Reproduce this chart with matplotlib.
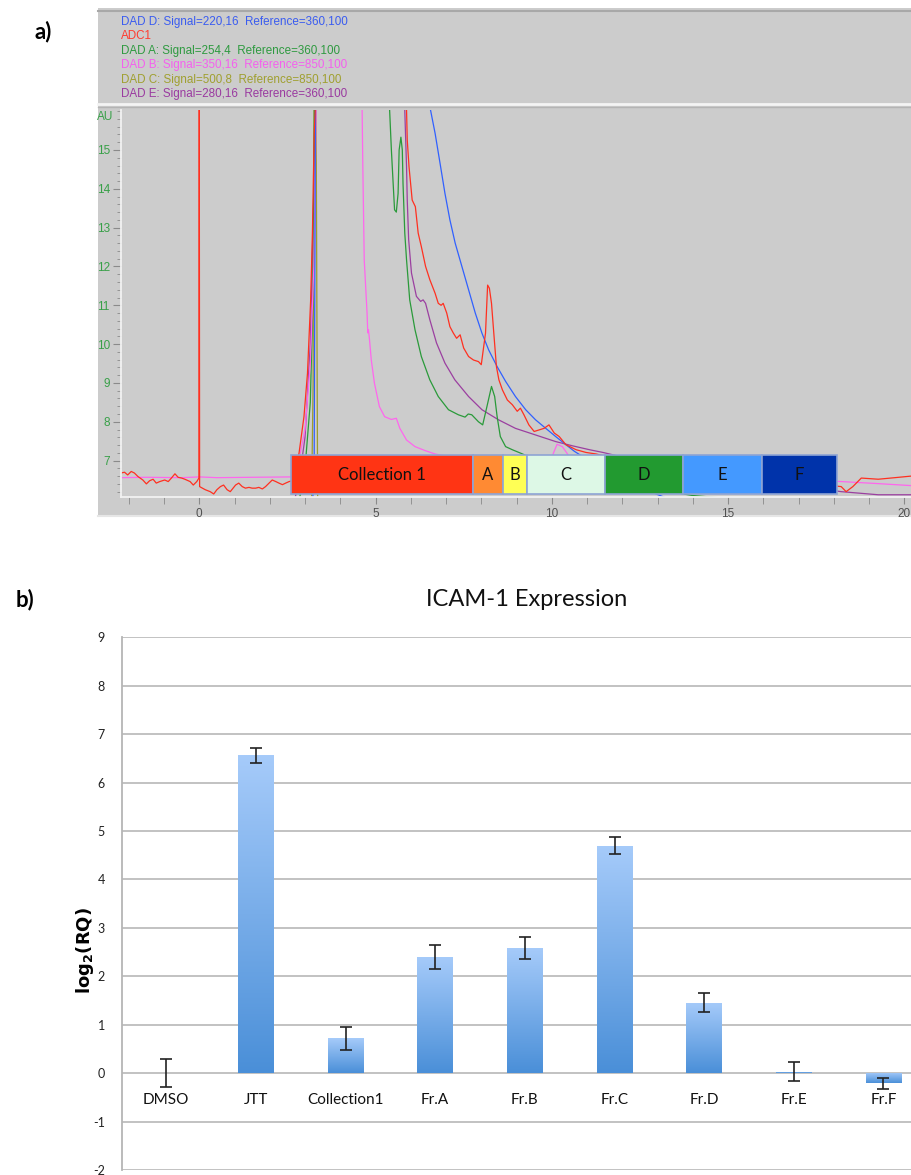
import matplotlib
matplotlib.use('Agg')
import matplotlib.pyplot as plt
import numpy as np
from matplotlib.patches import Rectangle
from matplotlib.lines import Line2D
from matplotlib.colors import LinearSegmentedColormap
from matplotlib.ticker import MultipleLocator

plt.rcParams['axes.unicode_minus'] = False

# ---------------- panel a: chromatogram (minutes, AU) ----------------
adc1 = [(-2.22, 6.68), (-2.12, 6.70), (-2.03, 6.63), (-1.93, 6.72), (-1.84, 6.68),
        (-1.74, 6.59), (-1.60, 6.50), (-1.50, 6.40), (-1.41, 6.48), (-1.31, 6.52),
        (-1.22, 6.42), (-1.12, 6.46), (-0.98, 6.50), (-0.88, 6.46), (-0.79, 6.55),
        (-0.69, 6.66), (-0.60, 6.57), (-0.50, 6.55), (-0.41, 6.52), (-0.26, 6.46),
        (-0.17, 6.37), (-0.07, 6.46), (-0.01, 6.55), (0.00, 16.5), (0.01, 6.33),
        (0.17, 6.25), (0.31, 6.20), (0.41, 6.14), (0.50, 6.25), (0.60, 6.33),
        (0.69, 6.37), (0.79, 6.25), (0.88, 6.20), (1.03, 6.37), (1.12, 6.42),
        (1.22, 6.33), (1.31, 6.29), (1.41, 6.31), (1.50, 6.29), (1.60, 6.29),
        (1.69, 6.31), (1.79, 6.27), (1.88, 6.33), (1.98, 6.42), (2.07, 6.50),
        (2.17, 6.46), (2.26, 6.42), (2.36, 6.38), (2.45, 6.42), (2.55, 6.46),
        (2.64, 6.48), (2.83, 7.19), (2.97, 8.13), (3.07, 9.25), (3.16, 11.14),
        (3.21, 12.86), (3.26, 15.43), (3.29, 16.03), (3.32, 17.0), (5.80, 17.0),
        (5.88, 16.03), (5.90, 15.26), (5.95, 14.57), (6.04, 13.71), (6.13, 13.54),
        (6.21, 12.86), (6.30, 12.51), (6.42, 12.00), (6.54, 11.66), (6.69, 11.31),
        (6.78, 11.05), (6.86, 11.00), (6.92, 11.05), (7.02, 10.80), (7.11, 10.45),
        (7.21, 10.28), (7.30, 10.15), (7.40, 10.24), (7.50, 9.90), (7.64, 9.68),
        (7.78, 9.59), (7.92, 9.55), (8.00, 9.47), (8.05, 9.81), (8.12, 10.28),
        (8.18, 11.52), (8.23, 11.44), (8.29, 11.05), (8.37, 10.11), (8.43, 9.42),
        (8.50, 9.08), (8.60, 8.82), (8.74, 8.56), (8.88, 8.44), (9.02, 8.27),
        (9.11, 8.35), (9.21, 8.18), (9.35, 7.92), (9.50, 7.75), (9.64, 7.79),
        (9.78, 7.83), (9.92, 7.92), (10.07, 7.71), (10.21, 7.62), (10.40, 7.41),
        (10.69, 7.28), (10.97, 7.21), (11.26, 7.17), (12.5, 6.90), (14.0, 6.70),
        (16.0, 6.50), (17.5, 6.40), (18.21, 6.33), (18.35, 6.20), (18.54, 6.33),
        (18.78, 6.55), (19.26, 6.52), (19.73, 6.56), (20.30, 6.61)]

dad_d = [(-2.22, 5.5), (3.20, 5.5), (3.26, 7.0), (3.28, 12.0), (3.30, 17.0), (6.45, 17.0),
         (6.56, 16.03), (6.69, 15.43), (6.83, 14.66), (6.97, 13.88), (7.11, 13.20),
         (7.26, 12.60), (7.45, 12.00), (7.64, 11.40), (7.83, 10.80), (8.02, 10.28),
         (8.21, 9.85), (8.45, 9.42), (8.69, 9.04), (8.97, 8.65), (9.26, 8.31),
         (9.54, 8.05), (9.83, 7.83), (10.11, 7.62), (10.40, 7.41), (10.64, 7.24),
         (10.83, 7.13), (11.5, 6.75), (12.5, 6.30), (13.5, 5.95), (15.0, 5.70), (20.3, 5.50)]

dad_a = [(-2.22, 5.8), (2.80, 5.8), (3.00, 6.8), (3.15, 8.5), (3.22, 11.0), (3.27, 16.5),
         (3.30, 17.0), (5.30, 17.0), (5.40, 16.03), (5.45, 15.0), (5.50, 14.14),
         (5.54, 13.46), (5.59, 13.40), (5.64, 13.88), (5.67, 15.0), (5.72, 15.33),
         (5.76, 15.0), (5.78, 14.14), (5.83, 12.86), (5.88, 12.17), (5.97, 11.14),
         (6.12, 10.37), (6.30, 9.68), (6.54, 9.08), (6.78, 8.65), (7.07, 8.31),
         (7.35, 8.18), (7.54, 8.12), (7.63, 8.20), (7.73, 8.18), (7.92, 8.00),
         (8.04, 7.92), (8.16, 8.39), (8.29, 8.91), (8.38, 8.65), (8.45, 8.13),
         (8.54, 7.62), (8.69, 7.36), (8.88, 7.28), (9.12, 7.19), (9.6, 7.00),
         (10.5, 6.80), (12.0, 6.40), (14.0, 6.10), (16.0, 5.95), (20.3, 5.85)]

dad_b = [(-2.22, 6.56), (-1.5, 6.57), (-0.5, 6.56), (0.0, 6.58), (0.5, 6.56), (1.5, 6.57),
         (2.64, 6.58), (2.80, 6.9), (3.00, 7.8), (3.15, 9.5), (3.25, 12.0), (3.30, 15.0),
         (3.33, 17.0), (4.50, 17.0), (4.62, 16.03), (4.64, 14.57), (4.68, 12.17),
         (4.76, 10.80), (4.78, 10.29), (4.80, 10.37), (4.83, 10.11), (4.88, 9.59),
         (4.97, 8.99), (5.11, 8.39), (5.26, 8.13), (5.45, 8.06), (5.59, 8.09),
         (5.69, 7.83), (5.88, 7.53), (6.12, 7.36), (6.40, 7.26), (6.69, 7.17),
         (7.3, 7.06), (8.2, 6.98), (9.2, 6.93), (9.95, 6.95), (10.05, 7.20),
         (10.15, 7.42), (10.3, 7.36), (10.5, 7.10), (11.2, 6.90), (13.0, 6.75),
         (15.0, 6.60), (18.21, 6.46), (19.2, 6.41), (20.3, 6.35)]

dad_c = [(-2.22, 5.6), (3.18, 5.6), (3.23, 9.0), (3.26, 17.0), (3.31, 17.0),
         (3.36, 5.6), (20.3, 5.6)]

dad_e = [(-2.22, 5.95), (2.70, 5.95), (2.85, 6.6), (3.00, 7.6), (3.15, 10.0), (3.25, 14.0),
         (3.30, 17.0), (5.70, 17.0), (5.83, 16.03), (5.85, 15.43), (5.88, 14.57),
         (5.90, 13.71), (5.94, 12.69), (6.02, 11.83), (6.16, 11.23), (6.28, 11.10),
         (6.35, 11.14), (6.42, 11.05), (6.54, 10.63), (6.73, 10.03), (6.97, 9.51),
         (7.25, 9.08), (7.64, 8.65), (8.02, 8.31), (8.49, 8.05), (8.97, 7.83),
         (9.54, 7.66), (10.11, 7.49), (10.59, 7.38), (11.07, 7.28), (11.45, 7.21),
         (11.73, 7.15), (13.0, 6.90), (15.0, 6.60), (17.0, 6.35), (18.21, 6.20),
         (19.26, 6.12), (20.3, 6.12)]

legend_lines = ['DAD D: Signal=220,16  Reference=360,100', 'ADC1',
                'DAD A: Signal=254,4  Reference=360,100', 'DAD B: Signal=350,16  Reference=850,100',
                'DAD C: Signal=500,8  Reference=850,100', 'DAD E: Signal=280,16  Reference=360,100']
legend_colors = ['#3a5cf0', '#ff3b2f', '#2e9a40', '#f460ee', '#a0a030', '#9a3aa0']

frac_labels = ['Collection 1', 'A', 'B', 'C', 'D', 'E', 'F']
frac_edges = [2.60, 7.77, 8.61, 9.29, 11.52, 13.71, 15.95, 18.08]
frac_colors = ['#ff3414', '#ff8a33', '#ffff55', '#ddf8e6', '#229a30', '#4499ff', '#0033aa']

# ---------------- panel b: ICAM-1 expression ----------------
categories = ['DMSO', 'JTT', 'Collection1', 'Fr.A', 'Fr.B', 'Fr.C', 'Fr.D', 'Fr.E', 'Fr.F']
log2_rq = [0.0, 6.56, 0.72, 2.40, 2.59, 4.70, 1.46, 0.03, -0.21]
rq_err = [0.29, 0.16, 0.24, 0.25, 0.23, 0.17, 0.20, 0.20, 0.11]

W, H = 911, 1175
fig = plt.figure(figsize=(W / 100, H / 100), dpi=100)


def fx(px):
    return px / W


def fy(py):
    return 1 - py / H


# screenshot frame of the chromatography software (behind the axes)
fig.add_artist(Rectangle((fx(98), fy(517)), fx(911) - fx(98), (517 - 8) / H,
                         transform=fig.transFigure, facecolor='#cccccc', edgecolor='none',
                         zorder=-3))
for py, col, lw in [(10.5, '#a8a8a8', 1.5), (104, '#f4f4f4', 2.0), (107, '#b4b4b4', 1.0),
                    (516, '#e6e6e6', 1.5)]:
    fig.add_artist(Line2D([fx(98), 1], [fy(py), fy(py)], transform=fig.transFigure,
                          color=col, lw=lw, zorder=-2))

for i, (txt, col) in enumerate(zip(legend_lines, legend_colors)):
    fig.text(fx(121), fy(21.7 + i * 14.5), txt, color=col, fontsize=8.4,
             family='Liberation Sans', va='center', ha='left')

ax_a = fig.add_axes([fx(121), fy(496.7), 1 - fx(121), (496.7 - 110) / H])
ax_a.set_facecolor('#cccccc')
traces = [(dad_c, '#9c9c30'), (dad_e, '#9b3fa0'), (dad_a, '#2a9a3a'), (dad_b, '#ff66ee'),
          (dad_d, '#3060ff'), (adc1, '#ff3020')]
for data, col in traces:
    t, au = zip(*data)
    ax_a.plot(t, au, color=col, lw=0.9, zorder=2)

for lab, x0, x1, col in zip(frac_labels, frac_edges[:-1], frac_edges[1:], frac_colors):
    ax_a.add_patch(Rectangle((x0, 6.14), x1 - x0, 7.15 - 6.14, facecolor=col,
                             edgecolor='#8ea4d4', lw=1.2, zorder=3))
    ax_a.text((x0 + x1) / 2, 6.62, lab, ha='center', va='center', fontsize=12,
              family='Lato', color='#111111', zorder=4)

ax_a.set_xlim(-2.22, 20.19)
ax_a.set_ylim(6.07, 16.03)
ax_a.xaxis.set_major_locator(MultipleLocator(5))
ax_a.xaxis.set_minor_locator(MultipleLocator(1))
ax_a.yaxis.set_minor_locator(MultipleLocator(0.2))
ax_a.set_yticks(range(7, 16))
for s in ['top', 'right']:
    ax_a.spines[s].set_visible(False)
for s in ['left', 'bottom']:
    ax_a.spines[s].set_color('#f2f2f2')
    ax_a.spines[s].set_linewidth(1.3)
ax_a.tick_params(axis='x', which='both', direction='out', length=5, color='#8a8a8a',
                 labelsize=8.5, labelcolor='#505050', pad=3)
ax_a.tick_params(axis='y', which='major', direction='out', length=6, color='#8a8a8a',
                 labelsize=8.5, labelcolor='#38a048', pad=2)
ax_a.tick_params(axis='y', which='minor', direction='out', length=3, color='#8a8a8a')
for lab in ax_a.get_xticklabels() + ax_a.get_yticklabels():
    lab.set_family('Liberation Sans')
ax_a.text(-0.01, 15.86, 'AU', transform=ax_a.get_yaxis_transform(), ha='right', va='center',
          fontsize=8.5, color='#38a048', family='Liberation Sans')

fig.text(fx(43), fy(32), 'a)', fontsize=16, fontweight='bold', family='Lato',
         ha='center', va='center')

# ---------------- panel b ----------------
ax_b = fig.add_axes([fx(121.7), fy(1170.1), 1 - fx(121.7), (1170.1 - 637.3) / H])
x = np.arange(len(categories))
bars = ax_b.bar(x, log2_rq, width=0.40, color='none', edgecolor='none', zorder=2)
cmap = LinearSegmentedColormap.from_list('bar', ['#4a8fd8', '#a6cbfa'])
grad = np.linspace(0, 1, 256).reshape(-1, 1)
for rect in bars:
    x0, y0, w, h = rect.get_x(), rect.get_y(), rect.get_width(), rect.get_height()
    lo, hi = min(y0, y0 + h), max(y0, y0 + h)
    if hi - lo < 1e-6:
        continue
    im = ax_b.imshow(grad, cmap=cmap, extent=[x0, x0 + w, lo, hi], origin='lower',
                     aspect='auto', zorder=2)
    im.set_clip_path(rect)
ax_b.errorbar(x, log2_rq, yerr=rq_err, fmt='none', ecolor='#222222', elinewidth=1.2,
              capsize=4, capthick=1.2, zorder=4)

for xi, lab in zip(x, categories):
    ax_b.annotate(lab, xy=(xi, 0), xytext=(0, -19.5), textcoords='offset points',
                  ha='center', va='center', fontsize=11, family='Lato', color='#111111')

ax_b.set_xlim(-0.497, 8.307)
ax_b.set_ylim(-2, 9)
ax_b.set_yticks(range(-2, 10))
ax_b.set_xticks([])
ax_b.yaxis.grid(True, color='#bdbdbd', lw=1.3)
ax_b.set_axisbelow(True)
for s in ['top', 'right', 'bottom']:
    ax_b.spines[s].set_visible(False)
ax_b.spines['left'].set_color('#b5b5b5')
ax_b.spines['left'].set_linewidth(1.3)
ax_b.tick_params(axis='y', length=0, pad=12, labelsize=9, labelcolor='#222222')
for lab in ax_b.get_yticklabels():
    lab.set_family('Lato')

fig.text(fx(527), fy(600), 'ICAM-1 Expression', fontsize=17, family='Lato',
         ha='center', va='center', color='#111111')
fig.text(fx(85), fy(950), r'$\mathbf{log_{2}(RQ)}$', fontsize=13, rotation=90,
         ha='center', va='center')
fig.text(fx(25), fy(600), 'b)', fontsize=16, fontweight='bold', family='Lato',
         ha='center', va='center')

fig.savefig('out.png', dpi=100)
